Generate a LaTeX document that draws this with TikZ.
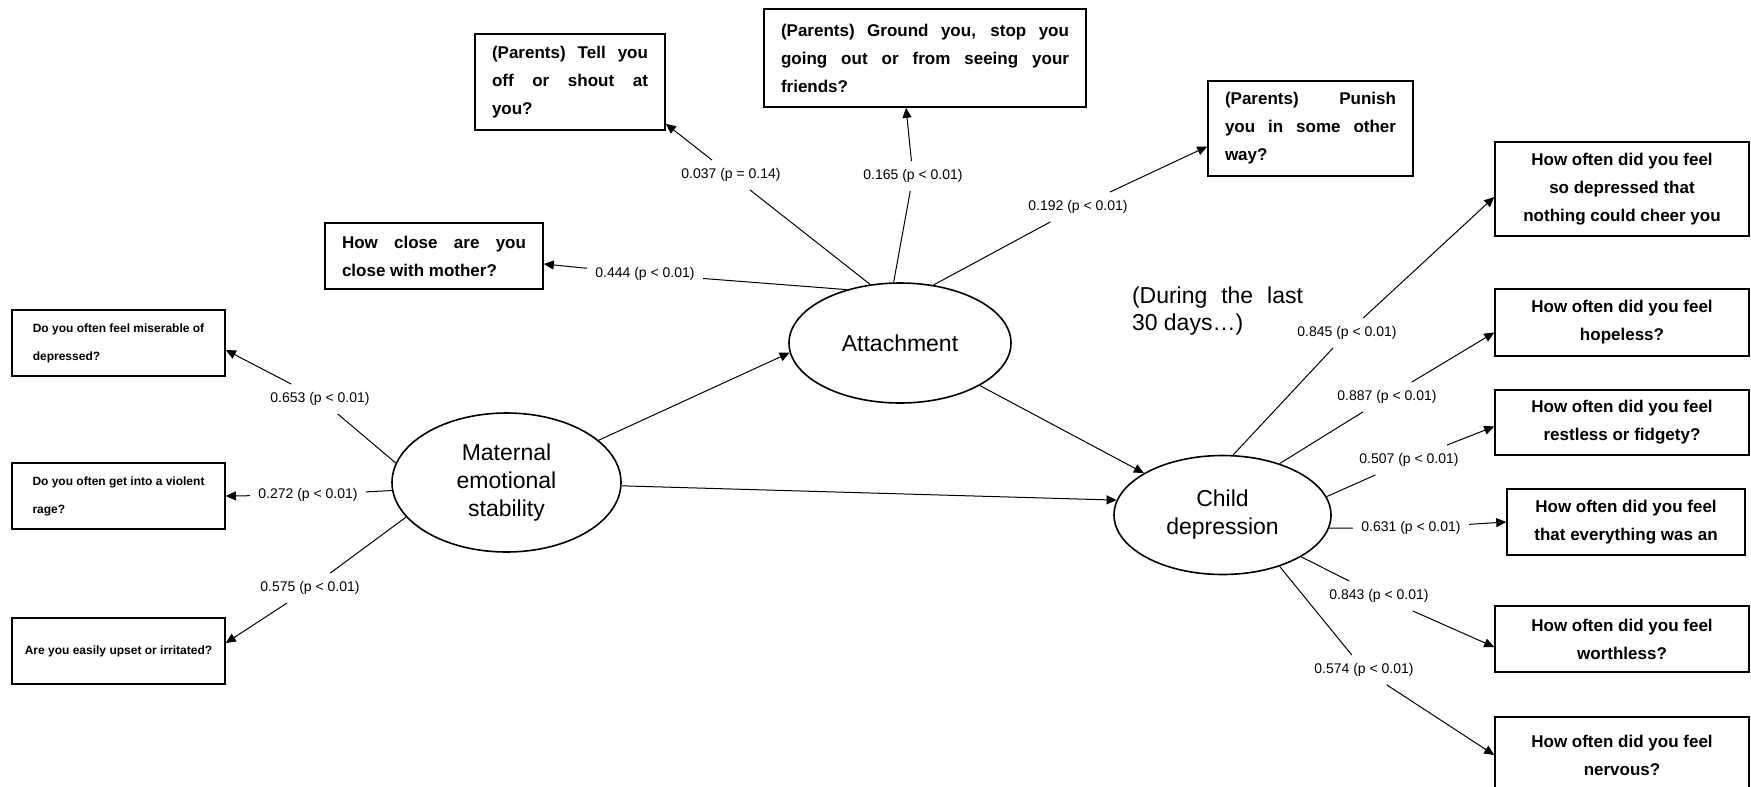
\documentclass[tikz,border=0pt]{standalone}
\usepackage{fontspec}
\setmainfont{Liberation Sans}
\usepackage{tikz}
\usetikzlibrary{shapes.geometric}
\usetikzlibrary{arrows.meta}
\tolerance=10000
\hbadness=10000
\hyphenpenalty=10000
\newcommand{\pval}[2]{#1 (p #2)}
\tikzset{
    common/.style={draw, rectangle, line width=0.8pt, inner xsep=8.5pt, inner ysep=0pt},
    quest/.style={common, font=\bfseries\fontsize{8.5}{14}\selectfont},
    questjust/.style={quest, align=justify},
    questmid/.style={quest, align=center, minimum width=127pt},
    questsmall/.style={common, inner xsep=3pt, font=\bfseries\fontsize{6}{14}\selectfont, align=left, minimum width=106.5pt, minimum height=33pt},
    latent/.style={draw, ellipse, line width=0.8pt, inner sep=0pt, align=center, font=\fontsize{11.5}{14}\selectfont},
    coef/.style={inner sep=4pt, font=\fontsize{7}{8}\selectfont},
    effect/.style={-{Triangle[length=5pt,width=4.5pt]}, line width=0.5pt}
}
\begin{document}
\begin{tikzpicture}[x=0.5pt, y=-0.5pt]
    \useasboundingbox (0,0) rectangle (1751,787);
    \clip (0,0) rectangle (1751,787);

    \node[latent, minimum width=114.5pt, minimum height=69.5pt] (Mat) at (506.5,482.5) {Maternal\\emotional\\stability};
    \node[latent, minimum width=111pt, minimum height=60pt] (Att) at (900,343) {Attachment};
    \node[latent, minimum width=108.5pt, minimum height=59.5pt] (Chd) at (1222.5,515) {Child\\depression};

    \node[questsmall] (MatI1) at (118.5,343) {Do you often feel miserable of\\depressed?};
    \node[questsmall] (MatI2) at (118.5,496) {Do you often get into a violent\\rage?};
    \node[questsmall] (MatI3) at (118.5,651) {Are you easily upset or irritated?};

    \node[questjust, text width=92pt, minimum height=33pt] (AttI1) at (434,256) {How close are you\linebreak close with mother?};
    \node[questjust, text width=78pt, minimum height=48pt] (AttI2) at (570,82) {(Parents) Tell you\linebreak off or shout at\linebreak you?};
    \node[questjust, text width=144pt, minimum height=49pt] (AttI3) at (925,58) {(Parents) Ground you, stop you\linebreak going out or from seeing your\linebreak friends?};
    \node[questjust, text width=85.5pt, minimum height=47.5pt] (AttI4) at (1310.5,128.5) {(Parents) Punish\linebreak you in some other\linebreak way?};

    \node[questmid, minimum height=47pt] (ChdI1) at (1622,189) {How often did you feel\\so depressed that\\nothing could cheer you};
    \node[questmid, minimum height=33.5pt] (ChdI2) at (1622,322.5) {How often did you feel\\hopeless?};
    \node[questmid, minimum height=32.5pt] (ChdI3) at (1622,422.5) {How often did you feel\\restless or fidgety?};
    \node[questmid, minimum width=119pt, minimum height=33pt] (ChdI4) at (1626,522) {How often did you feel\\that everything was an};
    \node[questmid, minimum height=33pt] (ChdI5) at (1622,639) {How often did you feel\\worthless?};
    \node[questmid, minimum height=38pt] (ChdI6) at (1622,755) {How often did you feel\\nervous?};

    \node[align=justify, text width=85.5pt, inner sep=0pt, font=\fontsize{11.5}{13.5}\selectfont] (Note) at (1217.5,311) {(During the last\linebreak 30 days…)};

    \node[coef] (MatL1) at (320,399) {\pval{0.653}{< 0.01}};
    \node[coef] (MatL2) at (308,495) {\pval{0.272}{< 0.01}};
    \node[coef] (MatL3) at (310,588) {\pval{0.575}{< 0.01}};
    \node[coef] (AttL1) at (645,274) {\pval{0.444}{< 0.01}};
    \node[coef] (AttL2) at (731,175) {\pval{0.037}{= 0.14}};
    \node[coef] (AttL3) at (913,176) {\pval{0.165}{< 0.01}};
    \node[coef] (AttL4) at (1078,207) {\pval{0.192}{< 0.01}};
    \node[coef] (ChdL1) at (1347,333) {\pval{0.845}{< 0.01}};
    \node[coef] (ChdL2) at (1387,397) {\pval{0.887}{< 0.01}};
    \node[coef] (ChdL3) at (1409,460) {\pval{0.507}{< 0.01}};
    \node[coef] (ChdL4) at (1411,528) {\pval{0.631}{< 0.01}};
    \node[coef] (ChdL5) at (1379,596) {\pval{0.843}{< 0.01}};
    \node[coef] (ChdL6) at (1364,670) {\pval{0.574}{< 0.01}};

    \draw[effect] (Mat) -- (Att.185);
    \draw[effect] (Att) -- (Chd);
    \draw[effect] (Mat) -- (Chd.172);

    \draw[effect] (Mat.170) -- (MatL1) (MatL1) -- ([yshift=-3.5pt]MatI1.east);
    \draw[effect] (Mat.184) -- (MatL2) (MatL2) -- (MatI2.east);
    \draw[effect] (Mat.199) -- (MatL3) (MatL3) -- ([yshift=4pt]MatI3.east);

    \draw[effect] (Att.135) -- (AttL1) (AttL1) -- ([yshift=-4pt]AttI1.east);
    \draw[effect] (Att.117) -- (AttL2) (AttL2) -- ([yshift=3.5pt]AttI2.south east);
    \draw[effect] (Att.96) -- (AttL3) (AttL3) -- ([xshift=-9.5pt]AttI3.south);
    \draw[effect] (Att.60) -- (AttL4) (AttL4) -- ([yshift=-9pt]AttI4.west);

    \draw[effect] (Chd.80) -- (ChdL1) (ChdL1) -- ([yshift=-4pt]ChdI1.west);
    \draw[effect] (Chd.42) -- (ChdL2) (ChdL2) -- ([yshift=-5pt]ChdI2.west);
    \draw[effect] (Chd.10) -- (ChdL3) (ChdL3) -- ([yshift=-2pt]ChdI3.west);
    \draw[effect] (Chd.353) -- (ChdL4) (ChdL4) -- (ChdI4.west);
    \draw[effect] (Chd.332) -- (ChdL5) (ChdL5) -- ([yshift=-4pt]ChdI5.west);
    \draw[effect] (Chd.318) -- (ChdL6) (ChdL6) -- (ChdI6.west);
\end{tikzpicture}
\end{document}
